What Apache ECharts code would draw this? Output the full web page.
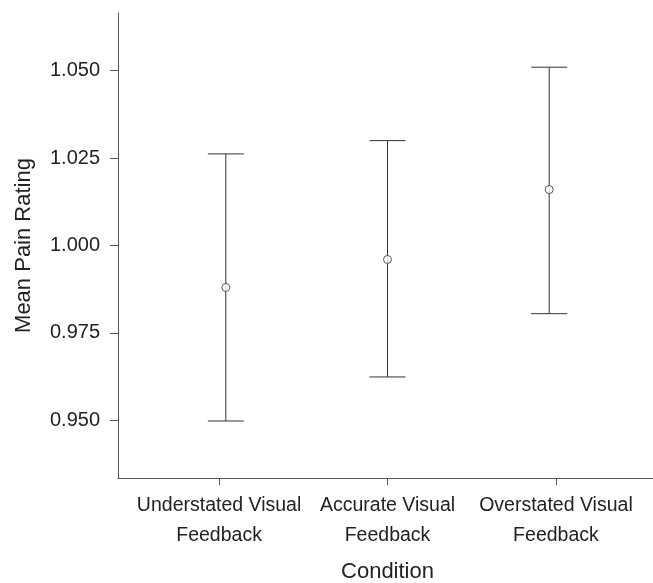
<!DOCTYPE html>
<html>
<head>
<meta charset="utf-8">
<script src="https://cdn.jsdelivr.net/npm/echarts@6/dist/echarts.min.js"></script>
<style>
html,body{margin:0;padding:0;background:#fff;}
#chart{width:653px;height:583px;}
</style>
</head>
<body>
<div id="chart"></div>
<script>
const categories = ['Understated Visual\nFeedback', 'Accurate Visual\nFeedback', 'Overstated Visual\nFeedback'];
const xTicks = [1, 2, 3];
const xPositions = [1.04, 2, 2.96];
const means = [0.988, 0.996, 1.016];
const lower = [0.9498, 0.9624, 0.9805];
const upper = [1.0262, 1.0300, 1.0510];
const yTicks = [0.95, 0.975, 1.0, 1.025, 1.05];

const FONT = '"Liberation Sans", Arial, Helvetica, sans-serif';
const LINE = '#333';
const AXIS = '#555';
const TEXT = '#222';

const errData = xPositions.map((x, i) => [x, lower[i], upper[i]]);
const meanData = xPositions.map((x, i) => [x, means[i]]);

function renderErr(params, api) {
  const x = api.value(0), lo = api.value(1), hi = api.value(2);
  const pLo = api.coord([x, lo]);
  const pHi = api.coord([x, hi]);
  const hw = 18;
  const st = { stroke: LINE, lineWidth: 1 };
  return {
    type: 'group',
    children: [
      { type: 'line', shape: { x1: pHi[0], y1: pHi[1], x2: pLo[0], y2: pLo[1] }, style: st },
      { type: 'line', shape: { x1: pHi[0] - hw, y1: pHi[1], x2: pHi[0] + hw, y2: pHi[1] }, style: st },
      { type: 'line', shape: { x1: pLo[0] - hw, y1: pLo[1], x2: pLo[0] + hw, y2: pLo[1] }, style: st }
    ]
  };
}

const chart = echarts.init(document.getElementById('chart'), null, { renderer: 'canvas' });
chart.setOption({
  backgroundColor: '#fff',
  animation: false,
  grid: { left: 118, top: 13, bottom: 105, width: 539, containLabel: false, outerBoundsMode: 'none' },
  xAxis: {
    type: 'value',
    min: 0.4,
    max: 3.6,
    name: 'Condition',
    nameLocation: 'middle',
    nameGap: 83,
    nameTextStyle: { fontFamily: FONT, fontSize: 22, color: TEXT },
    splitLine: { show: false },
    axisLine: { show: true, lineStyle: { color: AXIS, width: 1 } },
    axisTick: { show: true, length: 7, customValues: xTicks, lineStyle: { color: AXIS } },
    axisLabel: {
      customValues: xTicks,
      margin: 13,
      fontFamily: FONT,
      fontSize: 19.5,
      lineHeight: 29.5,
      color: TEXT,
      hideOverlap: false,
      formatter: v => categories[Math.round(v) - 1] || ''
    }
  },
  yAxis: {
    type: 'value',
    min: 0.9335,
    max: 1.0665,
    name: 'Mean Pain Rating',
    nameLocation: 'middle',
    nameGap: 83.5,
    nameTextStyle: { fontFamily: FONT, fontSize: 22, color: TEXT },
    splitLine: { show: false },
    axisLine: { show: true, lineStyle: { color: AXIS, width: 1 } },
    axisTick: { show: true, length: 8, customValues: yTicks, lineStyle: { color: AXIS } },
    axisLabel: {
      customValues: yTicks,
      margin: 18,
      fontFamily: FONT,
      fontSize: 20,
      color: TEXT,
      formatter: v => v.toFixed(3)
    }
  },
  series: [
    {
      type: 'custom',
      renderItem: renderErr,
      data: errData,
      encode: { x: 0, y: [1, 2] },
      z: 2
    },
    {
      type: 'scatter',
      data: meanData,
      symbol: 'circle',
      symbolSize: 8,
      itemStyle: { color: '#fff', borderColor: LINE, borderWidth: 1 },
      z: 3
    }
  ]
});
</script>
</body>
</html>
